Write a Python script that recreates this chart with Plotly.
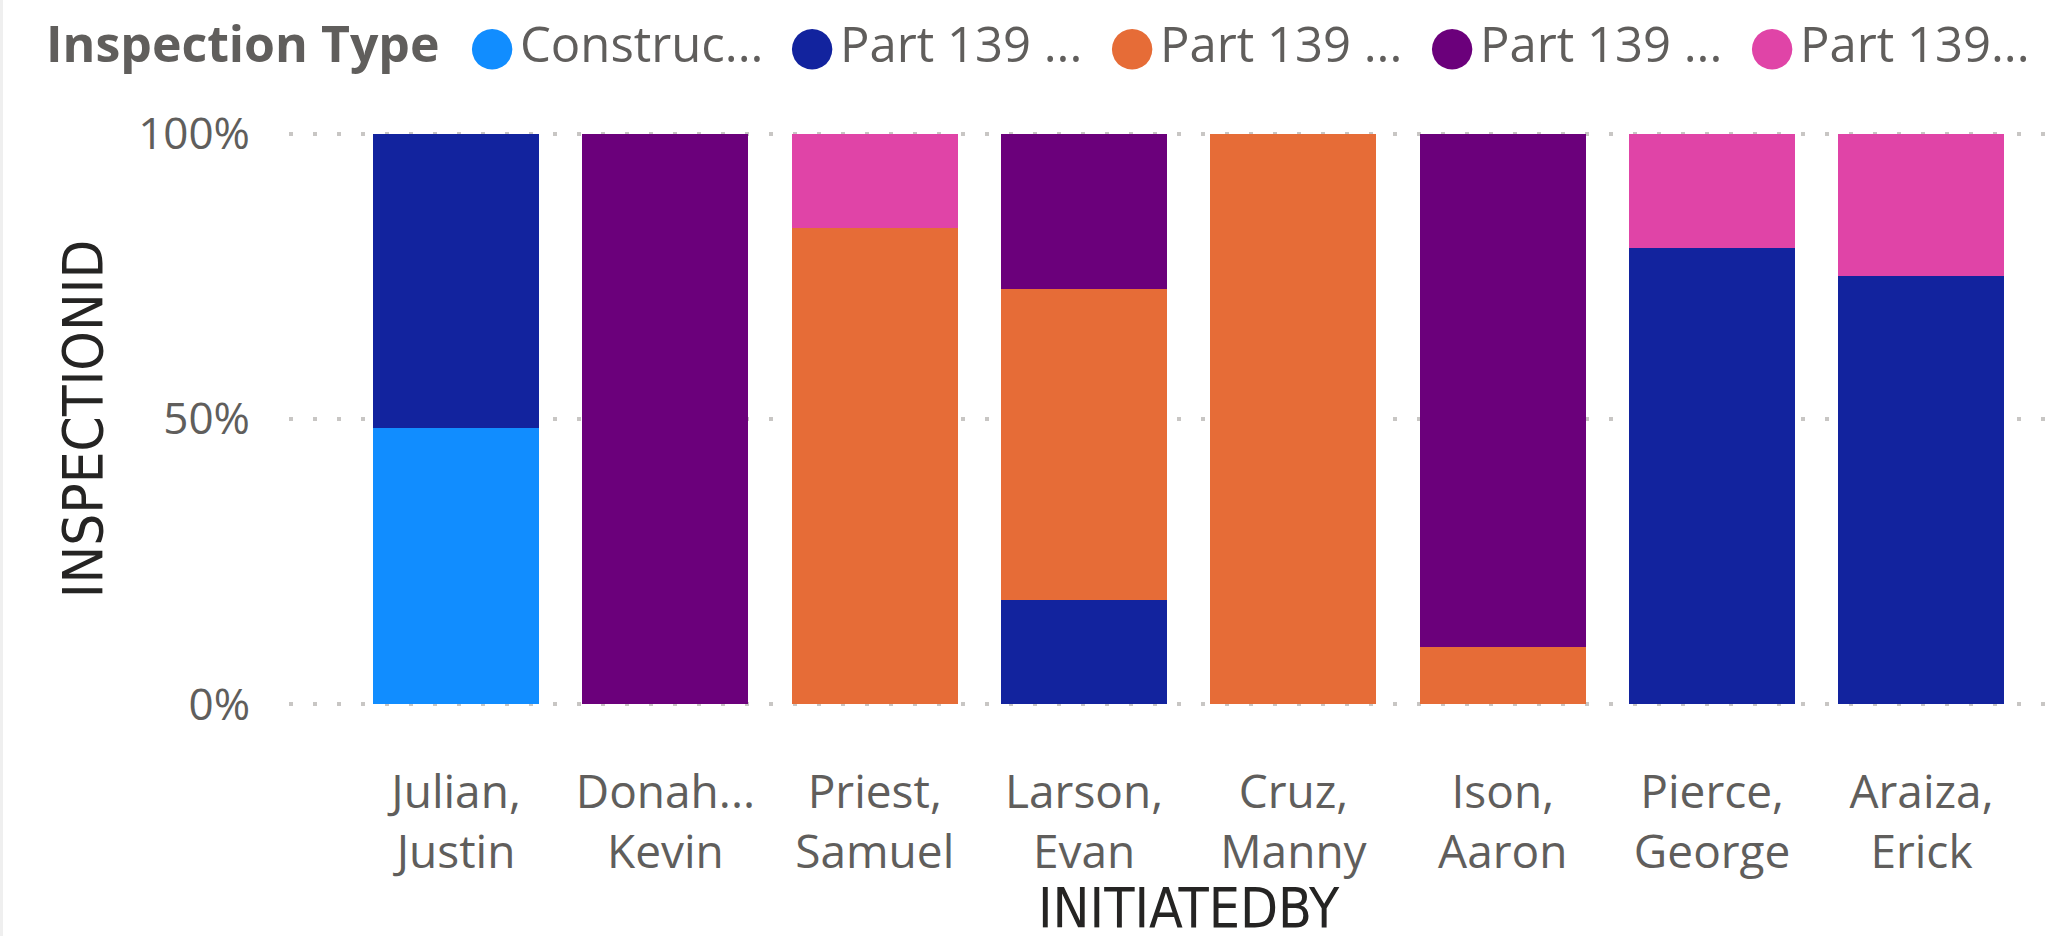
import plotly.graph_objects as go

# ---------------- data ----------------
categories = ["Julian,<br>Justin", "Donah...<br>Kevin", "Priest,<br>Samuel", "Larson,<br>Evan",
              "Cruz,<br>Manny", "Ison,<br>Aaron", "Pierce,<br>George", "Araiza,<br>Erick"]
series_names = ["Construc...", "Part 139 ...", "Part 139 ...", "Part 139 ...", "Part 139..."]
construction = [48.4, 0, 0, 0, 0, 0, 0, 0]
part139_a = [51.6, 0, 0, 18.2, 0, 0, 80.0, 75.0]
part139_b = [0, 0, 83.5, 54.5, 100, 10.0, 0, 0]
part139_c = [0, 100, 0, 27.3, 0, 90.0, 0, 0]
part139_d = [0, 0, 16.5, 0, 0, 0, 20.0, 25.0]
series_values = [construction, part139_a, part139_b, part139_c, part139_d]
colors = ["#118DFF", "#12239E", "#E66C37", "#6B007B", "#E044A7"]
y_ticks = [0, 50, 100]
y_tick_labels = ["0%", "50%", "100%"]
legend_title = "Inspection Type"
x_title = "INITIATEDBY"
y_title = "INSPECTIONID"

# ---------------- layout geometry ----------------
W, H = 2045, 936
L, R = 289, 2045
Y100, Y0 = 134, 704          # pixel rows of 100% and 0%
PAD = 1.0                     # extra value units above/below so edge gridlines are fully drawn
unit = (Y0 - Y100) / 100.0
T = Y100 - PAD * unit
B = Y0 + PAD * unit

def px_x(x):
    return (x - L) / (R - L)

def px_y(y):
    return (B - y) / (B - T)

TEXT_FONT = "Segoe UI, Open Sans, Noto Sans, sans-serif"
TITLE_FONT = "DejaVu Sans Condensed, Liberation Sans Narrow, Arial Narrow, DejaVu Sans, sans-serif"
GRAY = "#605E5C"
DARK = "#252423"

fig = go.Figure()
for name, vals, col in zip(series_names, series_values, colors):
    fig.add_trace(go.Bar(x=categories, y=[v if v else None for v in vals], name=name,
                         marker=dict(color=col, line=dict(width=0)), showlegend=False))

annotations = []
LEG_Y = 43
annotations.append(dict(text="<b>" + legend_title + "</b>", xref="paper", yref="paper",
                        x=px_x(44), y=px_y(LEG_Y), xanchor="left", yanchor="middle",
                        showarrow=False, font=dict(family=TEXT_FONT, size=50, color=GRAY)))
for i, (name, col) in enumerate(zip(series_names, colors)):
    cx = 492 + 320 * i
    annotations.append(dict(text="●", xref="paper", yref="paper", x=px_x(cx), y=px_y(LEG_Y + 2),
                            xanchor="center", yanchor="middle", showarrow=False,
                            font=dict(family="DejaVu Sans", size=53, color=col)))
    annotations.append(dict(text=name, xref="paper", yref="paper", x=px_x(cx + 26), y=px_y(LEG_Y),
                            xanchor="left", yanchor="middle", showarrow=False,
                            font=dict(family=TEXT_FONT, size=49, color=GRAY)))
annotations.append(dict(text=x_title, xref="x", yref="paper", x=(len(categories) - 1) / 2,
                        y=px_y(907), xanchor="center", yanchor="middle", showarrow=False,
                        font=dict(family=TITLE_FONT, size=55, color=DARK)))

fig.update_layout(
    width=W, height=H,
    margin=dict(l=L, r=W - R, t=T, b=H - B, autoexpand=False, pad=0),
    paper_bgcolor="white", plot_bgcolor="white",
    barmode="stack", bargap=0.207,
    showlegend=False,
    annotations=annotations,
    font=dict(family=TEXT_FONT, color=GRAY),
    shapes=[dict(type="rect", xref="paper", yref="paper", x0=px_x(0), x1=px_x(3),
                 y0=px_y(H), y1=px_y(0), fillcolor="#EFEFEF", line=dict(width=0), layer="below")],
)
fig.update_xaxes(type="category", range=[-0.798, len(categories) - 1 + 0.59], showgrid=False,
                 zeroline=False, showline=False, ticks="", ticklabelstandoff=51,
                 tickfont=dict(family=TEXT_FONT, size=46, color=GRAY), automargin=False)
fig.update_yaxes(range=[-PAD, 100 + PAD], tickvals=y_ticks, ticktext=y_tick_labels,
                 showgrid=True, gridcolor="#C8C6C4", gridwidth=4, griddash="4px,20px",
                 zeroline=False, showline=False, ticks="", ticklabelstandoff=38,
                 tickfont=dict(family=TEXT_FONT, size=44, color=GRAY), automargin=False,
                 title=dict(text=y_title, standoff=17,
                            font=dict(family=TITLE_FONT, size=56, color=DARK)))

fig.write_html("out.html", config={"displayModeBar": False},
               post_script="document.body.style.margin='0px';document.body.style.overflow='hidden';")
